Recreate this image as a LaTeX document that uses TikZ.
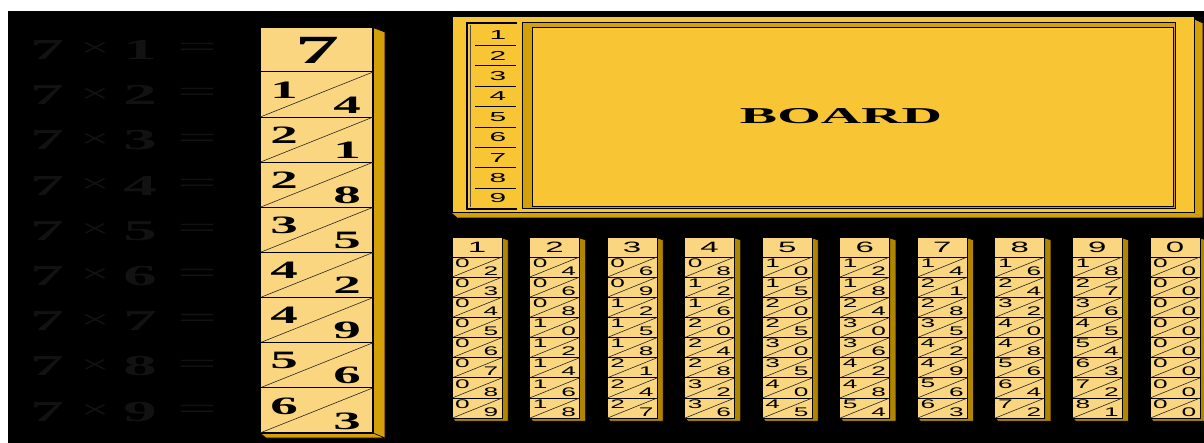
\documentclass[tikz,border=0pt]{standalone}
\usepackage{fontspec}
\setmainfont{Liberation Serif}
\newfontfamily\arfont{Liberation Sans}
\usepackage{graphicx}
\definecolor{rodfill}{RGB}{250,214,128}
\definecolor{boardfill}{RGB}{248,197,53}
\definecolor{bevel}{RGB}{212,160,10}
\definecolor{rodshade}{RGB}{176,134,0}
\definecolor{faint}{RGB}{18,18,18}
\def\digA#1#2{#1}
\def\digB#1#2{#2}
\newcommand\serifnum[3]{\scalebox{#1}[1]{\fontsize{#2}{#2}\selectfont\bfseries #3}}
\newcommand\sansnum[3]{\scalebox{#1}[1]{\arfont\fontsize{#2}{#2}\selectfont #3}}
\begin{document}
\begin{tikzpicture}[x=1pt,y=-1pt,
  txt/.style={inner sep=0pt,outer sep=0pt},
  faintTxt/.style={txt,text=faint},
  rodbox/.style={fill=rodfill,draw=black,line width=1.1pt},
  sep/.style={draw=black,line width=1pt},
  diag/.style={draw=black!85,line width=0.6pt},
  shade/.style={fill=bevel,draw=black,line width=0.6pt},
  smallshade/.style={fill=rodshade,draw=black,line width=0.5pt}]
\fill[white] (0,0) rectangle (1204,443);
\fill[black] (8,11) rectangle (1204,443);
\useasboundingbox (0,0) rectangle (1204,443);

% faint equations on the left
\foreach \n [count=\k from 0] in {1,...,9} {
  \pgfmathsetmacro\yy{50+45.2*\k}
  \node[faintTxt] (la\n) at (47,\yy) {\serifnum{2.3}{29}{7}};
  \node[faintTxt] (lb\n) at (95,\yy) {\scalebox{2.0}[1]{\fontsize{26}{26}\selectfont ×}};
  \node[faintTxt] (lc\n) at (140,\yy) {\serifnum{2.3}{29}{\n}};
  \node[faintTxt] (ld\n) at (197,\yy) {\scalebox{2.4}[1]{\fontsize{29}{29}\selectfont =}};
}

% big rod of 7
\fill[bevel] (374,28) -- (385,32) -- (385,438) -- (374,433) -- cycle;
\draw[black,line width=0.6pt] (374,28) -- (385,32) -- (385,438);
\filldraw[shade] (260,433) -- (373,433) -- (385,438) -- (266,438) -- cycle;
\path[rodbox] (260,27) rectangle (373,433);
\node[txt] (bighead) at (317,50) {\serifnum{2.2}{40}{7}};
\foreach \v [count=\k from 0] in {14,21,28,35,42,49,56,63} {
  \pgfmathsetmacro\yt{72+45.125*\k}
  \pgfmathsetmacro\yb{\yt+45.125}
  \draw[sep] (260,\yt) -- (373,\yt);
  \draw[diag] (260,\yb) -- (373,\yt);
  \node[txt] (bigA\k) at (284,\yt+18) {\serifnum{2.2}{25}{\expandafter\digA\v}};
  \node[txt] (bigB\k) at (347,\yt+33) {\serifnum{2.2}{25}{\expandafter\digB\v}};
}

% board
\fill[bevel] (1194,19) -- (1203,23) -- (1203,218) -- (1194,213) -- cycle;
\fill[bevel] (452,213) -- (1194,213) -- (1203,218) -- (458,218) -- cycle;
\draw[black,line width=0.6pt] (1194,19) -- (1203,23) -- (1203,218) -- (458,218);
\filldraw[fill=boardfill,draw=black,line width=1pt] (452,17) rectangle (1194,213);
% number column
\draw[black,line width=1.3pt] (517,23) -- (467,23) -- (467,209) -- (517,209);
\draw[black!70,line width=0.6pt] (470,25) -- (470,207);
\foreach \n [count=\k from 0] in {1,...,9} {
  \node[txt] (bn\n) at (498,35.2+20.4*\k) {\sansnum{2.3}{13}{\n}};
}
\foreach \k in {1,...,8} {
  \draw[black,line width=0.9pt] (475,25+20.4*\k) -- (516,25+20.4*\k);
}
% inner board
\filldraw[shade,line width=1pt] (522,23) rectangle (1175,209);
\filldraw[fill=boardfill,draw=black,line width=1pt] (532,28) rectangle (1173,207);
\node[txt] (boardtext) at (841,116) {\resizebox{202pt}{15pt}{\bfseries BOARD}};

% small rods
\foreach \h/\vals [count=\i from 0] in {
  1/{02,03,04,05,06,07,08,09},
  2/{04,06,08,10,12,14,16,18},
  3/{06,09,12,15,18,21,24,27},
  4/{08,12,16,20,24,28,32,36},
  5/{10,15,20,25,30,35,40,45},
  6/{12,18,24,30,36,42,48,54},
  7/{14,21,28,35,42,49,56,63},
  8/{16,24,32,40,48,56,64,72},
  9/{18,27,36,45,54,63,72,81},
  0/{00,00,00,00,00,00,00,00}} {
  \pgfmathsetmacro\xo{452+77.55*\i}
  \filldraw[smallshade] (\xo+50,238) -- (\xo+56,240) -- (\xo+56,421) -- (\xo+3,421) -- (\xo+1,418.5) -- (\xo+50,418.5) -- cycle;
  \path[rodbox,line width=0.9pt] (\xo,237) rectangle (\xo+50,418.2);
  \node[txt] (sh\i) at (\xo+25,247) {\sansnum{2.2}{15}{\h}};
  \foreach \v [count=\k from 0] in \vals {
    \pgfmathsetmacro\yt{257+20.15*\k}
    \draw[sep,line width=0.9pt] (\xo,\yt) -- (\xo+50,\yt);
    \draw[diag,line width=0.6pt] (\xo,\yt+20.15) -- (\xo+50,\yt);
    \node[txt] (sa\i-\k) at (\xo+10.5,\yt+5.8) {\sansnum{2.1}{12.5}{\expandafter\digA\v}};
    \node[txt] (sb\i-\k) at (\xo+39,\yt+13.8) {\sansnum{2.1}{12.5}{\expandafter\digB\v}};
  }
}
\end{tikzpicture}
\end{document}
